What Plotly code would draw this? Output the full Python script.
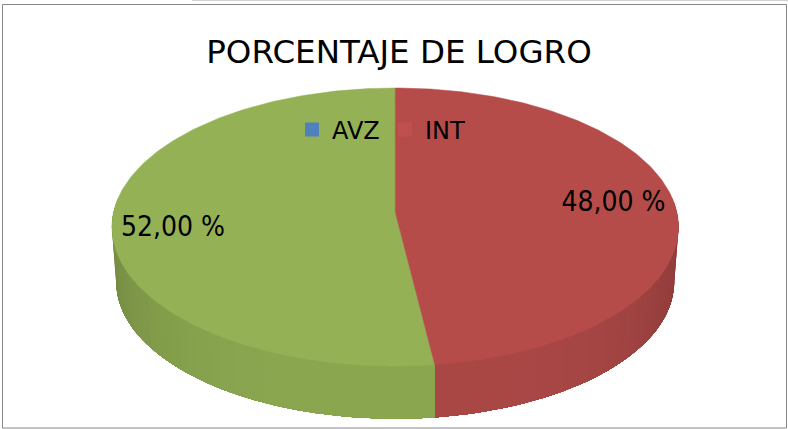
import math
import plotly.graph_objects as go

# Data
categories = ["AVZ", "INT", "BAS"]
values = [0.0, 48.0, 52.0]
legend_names = ["AVZ", "INT"]
chart_title = "PORCENTAJE DE LOGRO"

# Styles
top_colors = {"INT": "#B54C4A", "BAS": "#94B255"}
legend_colors = {"AVZ": "#4F81BD", "INT": "#C0504D"}
FONT = "DejaVu Sans"
W, H = 788, 429

# Projection of the tilted disc into chart units
CX, CY, DEPTH, BOTTOM_SCALE = 395.2, 212.0, 55.0, 0.985
A, B, K = 137.4, 281.6, 0.108


def project(theta_deg, bottom=False):
    t = math.radians(theta_deg)
    u, v = math.sin(t), math.cos(t)
    d = 1 + K * v
    x, y = B * u / d, -A * v / d
    if bottom:
        return CX + BOTTOM_SCALE * x, CY + DEPTH + BOTTOM_SCALE * y
    return CX + x, CY + y


def steps(a, b, step):
    n = max(2, int(abs(b - a) / step) + 1)
    return [a + (b - a) * i / (n - 1) for i in range(n)]


def shade(hex_color, f):
    r, g, b = (int(hex_color[i:i + 2], 16) for i in (1, 3, 5))
    return f"rgb({r * f:.0f},{g * f:.0f},{b * f:.0f})"


def wall_factor(theta_deg):
    # darkest at the left and right ends of the wall, lightest at the front
    s = abs(math.sin(math.radians(theta_deg)))
    return 0.935 - 0.15 * s ** 4


fig = go.Figure()

# Slices, clockwise from twelve o'clock
total = sum(values)
start = 0.0
spans = {}
for c, v in zip(categories, values):
    spans[c] = (start, start + 360.0 * v / total)
    start = spans[c][1]

# Side wall, painted strip over strip; each strip runs to the far end of the
# slice so that no seams show between neighbours
for c, order in (("INT", 1), ("BAS", -1)):
    a, b = spans[c]
    a, b = max(a, 84.0), min(b, 276.0)
    edges = steps(a, b, 2.0)
    if order == 1:
        pairs = [(e, b) for e in edges[:-1]]
    else:
        pairs = [(a, e) for e in edges[:0:-1]]
    for e0, e1 in pairs:
        arc = steps(e0, e1, 2.0)
        p = [project(t) for t in arc] + [project(t, True) for t in reversed(arc)]
        p.append(p[0])
        ref = e0 + 1 if order == 1 else e1 - 1
        col = shade(top_colors[c], wall_factor(ref))
        fig.add_trace(go.Scatter(x=[q[0] for q in p], y=[q[1] for q in p], mode="lines",
                                 fill="toself", fillcolor=col, line=dict(width=0),
                                 showlegend=False, hoverinfo="skip"))

# Top faces
for c in ("BAS", "INT"):
    a, b = spans[c]
    p = [(CX, CY)] + [project(t) for t in steps(a, b, 1.0)] + [(CX, CY)]
    fig.add_trace(go.Scatter(x=[q[0] for q in p], y=[q[1] for q in p], mode="lines",
                             fill="toself", fillcolor=top_colors[c],
                             line=dict(color=top_colors[c], width=0.5),
                             showlegend=False, hoverinfo="text", text=c))

# Legend entries
for name in legend_names:
    fig.add_trace(go.Scatter(x=[None], y=[None], mode="markers", name=name,
                             marker=dict(symbol="square", size=14, color=legend_colors[name])))

# Percentage labels
label_cats = ["INT", "BAS"]
label_x = [613.5, 173.0]
label_y = [204.0, 229.0]
fig.add_trace(go.Scatter(
    x=label_x, y=label_y, mode="text", showlegend=False, hoverinfo="skip",
    text=[f"{values[categories.index(c)]:.2f}".replace(".", ",") + " %" for c in label_cats],
    textposition="middle center",
    textfont=dict(family="DejaVu Sans Condensed, DejaVu Sans", size=28, color="#000000")))

fig.update_layout(
    width=W, height=H, autosize=False,
    margin=dict(l=0, r=0, t=0, b=0),
    paper_bgcolor="#FFFFFF", plot_bgcolor="#FFFFFF",
    font=dict(family=FONT, color="#000000"),
    title=dict(text=chart_title, x=399 / W, xanchor="center", y=1 - 52 / H, yanchor="middle",
               font=dict(family=FONT, size=32.5, color="#000000")),
    xaxis=dict(range=[0, W], visible=False, fixedrange=True),
    yaxis=dict(range=[H, 0], visible=False, fixedrange=True),
    legend=dict(orientation="h", x=292 / W, xanchor="left", y=1 - 130 / H, yanchor="middle",
                bgcolor="rgba(0,0,0,0)", borderwidth=0,
                font=dict(family=FONT, size=24, color="#000000"),
                entrywidth=48, entrywidthmode="pixels", itemclick=False, itemdoubleclick=False),
    shapes=[
        dict(type="rect", xref="x", yref="y", x0=2.5, y0=4.5, x1=786.5, y1=428,
             line=dict(color="#868686", width=1), fillcolor="rgba(0,0,0,0)", layer="below"),
        dict(type="line", xref="x", yref="y", x0=192, y0=0.5, x1=W, y1=0.5,
             line=dict(color="#D0D0D0", width=1), layer="below"),
    ],
)

fig.write_html("out.html", config={"displayModeBar": False},
               post_script="document.body.style.margin='0';")
